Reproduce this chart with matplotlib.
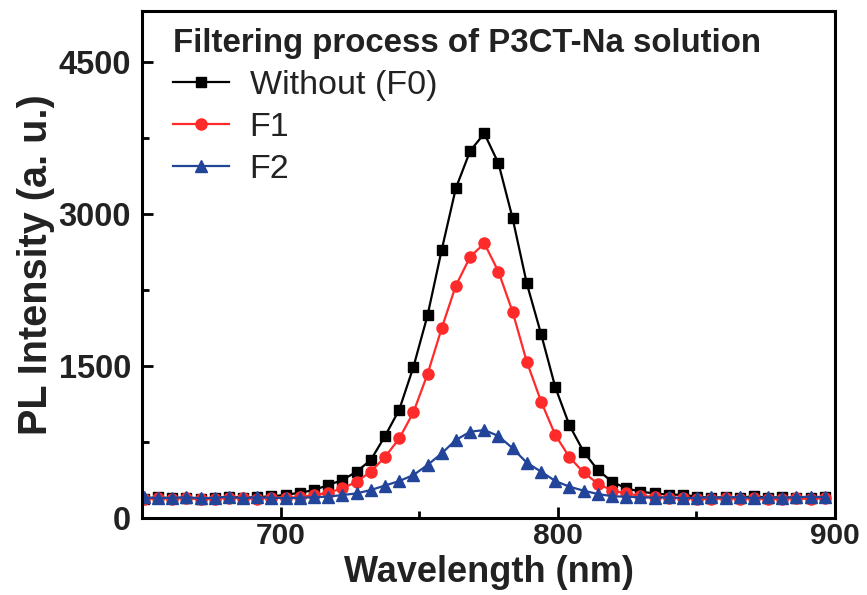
import matplotlib
matplotlib.use("Agg")
import matplotlib.pyplot as plt
from matplotlib.ticker import MultipleLocator

plt.rcParams['font.family'] = ['Liberation Sans', 'DejaVu Sans']

# Emission wavelength grid (nm) at the plotted sample points
wavelength = [650.6, 655.7, 660.8, 666.0, 671.1, 676.2, 681.3, 686.4, 691.6, 696.7,
              701.8, 706.9, 712.0, 717.2, 722.3, 727.4, 732.5, 737.6, 742.8, 747.9,
              753.0, 758.1, 763.2, 768.4, 773.5, 778.6, 783.7, 788.8, 794.0, 799.1,
              804.2, 809.3, 814.4, 819.6, 824.7, 829.8, 834.9, 840.0, 845.2, 850.3,
              855.4, 860.5, 865.6, 870.8, 875.9, 881.0, 886.1, 891.2, 896.4]

# PL intensity (a. u.) of the unfiltered solution
f0 = [190, 205, 195, 200, 190, 195, 210, 200, 205, 215,
      227, 250, 276, 326, 375, 457, 572, 805, 1070, 1490,
      2000, 2645, 3254, 3625, 3796, 3500, 2958, 2316, 1813, 1290,
      915, 655, 474, 358, 293, 260, 243, 230, 230, 210,
      200, 205, 200, 215, 200, 205, 200, 200, 210]

# PL intensity after the first filtering step
f1 = [185, 195, 190, 200, 185, 190, 200, 195, 190, 200,
      200, 204, 227, 250, 293, 358, 457, 600, 785, 1043,
      1421, 1872, 2293, 2579, 2711, 2431, 2035, 1543, 1148, 819,
      600, 450, 340, 270, 243, 217, 210, 200, 195, 190,
      185, 195, 190, 195, 185, 190, 195, 185, 200]

# PL intensity after the second filtering step
f2 = [205, 195, 200, 205, 195, 200, 210, 195, 205, 200,
      195, 200, 205, 211, 227, 243, 276, 320, 365, 424,
      523, 638, 770, 852, 868, 809, 688, 546, 457, 365,
      309, 270, 237, 215, 210, 205, 200, 205, 195, 200,
      205, 200, 210, 195, 205, 200, 205, 210, 205]

series_labels = ['Without (F0)', 'F1', 'F2']
legend_title = 'Filtering process of P3CT-Na solution'
x_ticks = [700, 800, 900]
y_ticks = [0, 1500, 3000, 4500]

fig = plt.figure(figsize=(8.67, 5.95), dpi=100)
ax = fig.add_axes([0.1638, 0.1294, 0.7993, 0.8513])

ax.plot(wavelength, f0, color='black', lw=1.6, marker='s', ms=7.5,
        label=series_labels[0])
ax.plot(wavelength, f1, color='#ff2a2a', lw=1.6, marker='o', ms=8,
        label=series_labels[1])
ax.plot(wavelength, f2, color='#22459a', lw=1.6, marker='^', ms=8.5,
        label=series_labels[2])

ax.set_xlim(650, 900)
ax.set_ylim(0, 5000)
ax.set_xticks(x_ticks)
ax.set_yticks(y_ticks)
ax.xaxis.set_minor_locator(MultipleLocator(50))
ax.yaxis.set_minor_locator(MultipleLocator(750))

for s in ax.spines.values():
    s.set_linewidth(2.2)
ax.tick_params(which='major', direction='in', length=8, width=2,
               labelsize=23.5, pad=8, top=False, right=False)
ax.tick_params(which='minor', direction='in', length=5, width=2,
               top=False, right=False)
ax.tick_params(axis='x', which='major', labelsize=21.5, pad=3)
for lab in ax.get_xticklabels() + ax.get_yticklabels():
    lab.set_fontweight('bold')
    lab.set_color('#222222')

ax.set_xlabel('Wavelength (nm)', fontsize=26, fontweight='bold', color='#222222')
ax.set_ylabel('PL Intensity (a. u.)', fontsize=28.5, fontweight='bold', color='#222222')
ax.xaxis.set_label_coords(0.5, -0.074)
ax.yaxis.set_label_coords(-0.126, 0.5)

leg = ax.legend(title=legend_title, loc='upper left', bbox_to_anchor=(0.025, 0.995),
                frameon=False, fontsize=24.5, handlelength=1.65, handletextpad=0.6,
                labelspacing=0.33, borderaxespad=0.0, alignment='left',
                title_fontproperties={'size': 23.8, 'weight': 'bold'})
for t in leg.get_texts():
    t.set_color('#222222')
leg.get_title().set_color('#222222')

fig.savefig('out.png', dpi=100)
